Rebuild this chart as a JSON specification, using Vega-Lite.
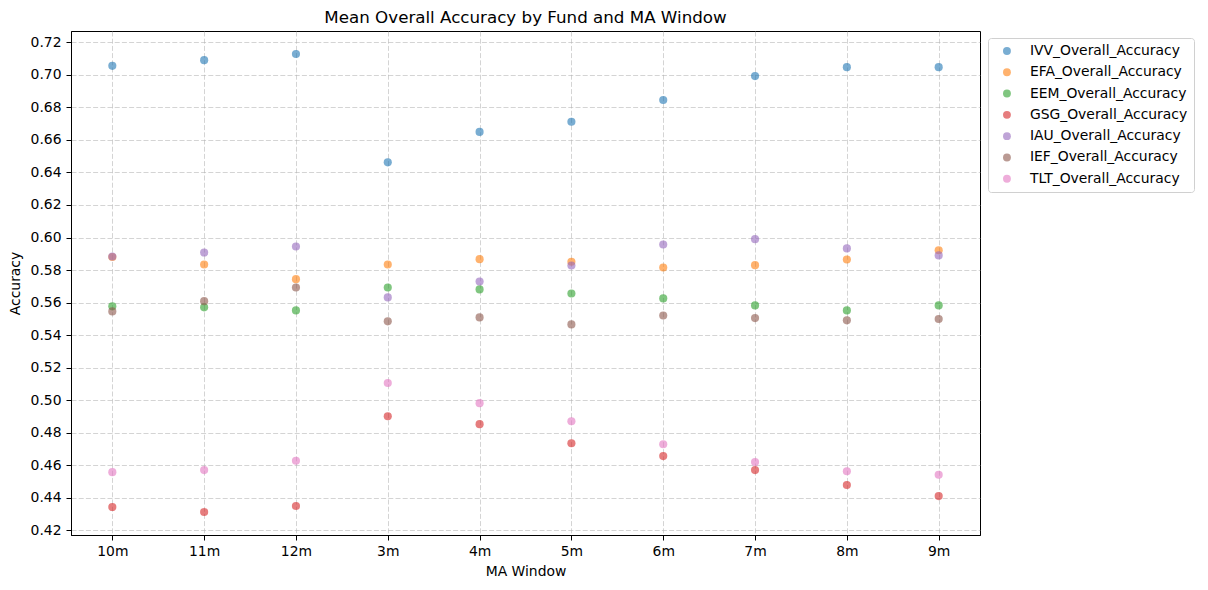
{
  "$schema": "https://vega.github.io/schema/vega-lite/v6.json",
  "autosize": {"type": "none"},
  "padding": {"left": 71, "top": 31, "right": 228, "bottom": 55},
  "width": 909,
  "height": 504,
  "background": "white",
  "title": {
    "text": "Mean Overall Accuracy by Fund and MA Window",
    "font": "DejaVu Sans",
    "fontSize": 16.7,
    "fontWeight": "normal",
    "color": "#000000",
    "offset": 4
  },
  "config": {
    "view": {"stroke": "#000000", "strokeWidth": 1},
    "axis": {
      "labelFont": "DejaVu Sans",
      "labelFontSize": 13.9,
      "labelColor": "#000000",
      "titleFont": "DejaVu Sans",
      "titleFontSize": 13.9,
      "titleFontWeight": "normal",
      "titleColor": "#000000",
      "tickColor": "#000000",
      "tickSize": 5,
      "labelPadding": 4,
      "domainColor": "#000000",
      "grid": true,
      "gridColor": "#b0b0b0",
      "gridOpacity": 0.55,
      "gridWidth": 1,
      "gridDash": [5, 2.2]
    },
    "legend": {
      "labelFont": "DejaVu Sans",
      "labelFontSize": 13.9,
      "labelColor": "#000000"
    }
  },
  "data": {
    "values": [
      {"window": "10m", "series": "IVV_Overall_Accuracy", "accuracy": 0.7055},
      {"window": "11m", "series": "IVV_Overall_Accuracy", "accuracy": 0.709},
      {"window": "12m", "series": "IVV_Overall_Accuracy", "accuracy": 0.7128},
      {"window": "3m", "series": "IVV_Overall_Accuracy", "accuracy": 0.6462},
      {"window": "4m", "series": "IVV_Overall_Accuracy", "accuracy": 0.6649},
      {"window": "5m", "series": "IVV_Overall_Accuracy", "accuracy": 0.6711},
      {"window": "6m", "series": "IVV_Overall_Accuracy", "accuracy": 0.6845},
      {"window": "7m", "series": "IVV_Overall_Accuracy", "accuracy": 0.6992},
      {"window": "8m", "series": "IVV_Overall_Accuracy", "accuracy": 0.7047},
      {"window": "9m", "series": "IVV_Overall_Accuracy", "accuracy": 0.7047},

      {"window": "10m", "series": "EFA_Overall_Accuracy", "accuracy": 0.588},
      {"window": "11m", "series": "EFA_Overall_Accuracy", "accuracy": 0.5834},
      {"window": "12m", "series": "EFA_Overall_Accuracy", "accuracy": 0.5744},
      {"window": "3m", "series": "EFA_Overall_Accuracy", "accuracy": 0.5834},
      {"window": "4m", "series": "EFA_Overall_Accuracy", "accuracy": 0.5867},
      {"window": "5m", "series": "EFA_Overall_Accuracy", "accuracy": 0.5851},
      {"window": "6m", "series": "EFA_Overall_Accuracy", "accuracy": 0.5816},
      {"window": "7m", "series": "EFA_Overall_Accuracy", "accuracy": 0.583},
      {"window": "8m", "series": "EFA_Overall_Accuracy", "accuracy": 0.5865},
      {"window": "9m", "series": "EFA_Overall_Accuracy", "accuracy": 0.5922},

      {"window": "10m", "series": "EEM_Overall_Accuracy", "accuracy": 0.5577},
      {"window": "11m", "series": "EEM_Overall_Accuracy", "accuracy": 0.5571},
      {"window": "12m", "series": "EEM_Overall_Accuracy", "accuracy": 0.5552},
      {"window": "3m", "series": "EEM_Overall_Accuracy", "accuracy": 0.5693},
      {"window": "4m", "series": "EEM_Overall_Accuracy", "accuracy": 0.5681},
      {"window": "5m", "series": "EEM_Overall_Accuracy", "accuracy": 0.5656},
      {"window": "6m", "series": "EEM_Overall_Accuracy", "accuracy": 0.5626},
      {"window": "7m", "series": "EEM_Overall_Accuracy", "accuracy": 0.5583},
      {"window": "8m", "series": "EEM_Overall_Accuracy", "accuracy": 0.5552},
      {"window": "9m", "series": "EEM_Overall_Accuracy", "accuracy": 0.5583},

      {"window": "10m", "series": "GSG_Overall_Accuracy", "accuracy": 0.4344},
      {"window": "11m", "series": "GSG_Overall_Accuracy", "accuracy": 0.4313},
      {"window": "12m", "series": "GSG_Overall_Accuracy", "accuracy": 0.435},
      {"window": "3m", "series": "GSG_Overall_Accuracy", "accuracy": 0.4902},
      {"window": "4m", "series": "GSG_Overall_Accuracy", "accuracy": 0.4853},
      {"window": "5m", "series": "GSG_Overall_Accuracy", "accuracy": 0.4736},
      {"window": "6m", "series": "GSG_Overall_Accuracy", "accuracy": 0.4657},
      {"window": "7m", "series": "GSG_Overall_Accuracy", "accuracy": 0.4571},
      {"window": "8m", "series": "GSG_Overall_Accuracy", "accuracy": 0.4479},
      {"window": "9m", "series": "GSG_Overall_Accuracy", "accuracy": 0.4411},

      {"window": "10m", "series": "IAU_Overall_Accuracy", "accuracy": 0.5883},
      {"window": "11m", "series": "IAU_Overall_Accuracy", "accuracy": 0.5908},
      {"window": "12m", "series": "IAU_Overall_Accuracy", "accuracy": 0.5945},
      {"window": "3m", "series": "IAU_Overall_Accuracy", "accuracy": 0.5632},
      {"window": "4m", "series": "IAU_Overall_Accuracy", "accuracy": 0.573},
      {"window": "5m", "series": "IAU_Overall_Accuracy", "accuracy": 0.5828},
      {"window": "6m", "series": "IAU_Overall_Accuracy", "accuracy": 0.5957},
      {"window": "7m", "series": "IAU_Overall_Accuracy", "accuracy": 0.599},
      {"window": "8m", "series": "IAU_Overall_Accuracy", "accuracy": 0.5933},
      {"window": "9m", "series": "IAU_Overall_Accuracy", "accuracy": 0.589},

      {"window": "10m", "series": "IEF_Overall_Accuracy", "accuracy": 0.5546},
      {"window": "11m", "series": "IEF_Overall_Accuracy", "accuracy": 0.5609},
      {"window": "12m", "series": "IEF_Overall_Accuracy", "accuracy": 0.5693},
      {"window": "3m", "series": "IEF_Overall_Accuracy", "accuracy": 0.5485},
      {"window": "4m", "series": "IEF_Overall_Accuracy", "accuracy": 0.5509},
      {"window": "5m", "series": "IEF_Overall_Accuracy", "accuracy": 0.5466},
      {"window": "6m", "series": "IEF_Overall_Accuracy", "accuracy": 0.5521},
      {"window": "7m", "series": "IEF_Overall_Accuracy", "accuracy": 0.5505},
      {"window": "8m", "series": "IEF_Overall_Accuracy", "accuracy": 0.5491},
      {"window": "9m", "series": "IEF_Overall_Accuracy", "accuracy": 0.5499},

      {"window": "10m", "series": "TLT_Overall_Accuracy", "accuracy": 0.4558},
      {"window": "11m", "series": "TLT_Overall_Accuracy", "accuracy": 0.4571},
      {"window": "12m", "series": "TLT_Overall_Accuracy", "accuracy": 0.4628},
      {"window": "3m", "series": "TLT_Overall_Accuracy", "accuracy": 0.5106},
      {"window": "4m", "series": "TLT_Overall_Accuracy", "accuracy": 0.4982},
      {"window": "5m", "series": "TLT_Overall_Accuracy", "accuracy": 0.4871},
      {"window": "6m", "series": "TLT_Overall_Accuracy", "accuracy": 0.473},
      {"window": "7m", "series": "TLT_Overall_Accuracy", "accuracy": 0.462},
      {"window": "8m", "series": "TLT_Overall_Accuracy", "accuracy": 0.4564},
      {"window": "9m", "series": "TLT_Overall_Accuracy", "accuracy": 0.4542}
    ]
  },
  "mark": {"type": "circle", "size": 66, "opacity": 0.6},
  "encoding": {
    "x": {
      "field": "window",
      "type": "ordinal",
      "sort": ["10m", "11m", "12m", "3m", "4m", "5m", "6m", "7m", "8m", "9m"],
      "scale": {"type": "point", "padding": 0.45},
      "axis": {"title": "MA Window", "labelAngle": 0, "titlePadding": 7}
    },
    "y": {
      "field": "accuracy",
      "type": "quantitative",
      "scale": {"domain": [0.4172, 0.7269], "nice": false, "zero": false},
      "axis": {
        "title": "Accuracy",
        "values": [0.42, 0.44, 0.46, 0.48, 0.5, 0.52, 0.54, 0.56, 0.58, 0.6, 0.62, 0.64, 0.66, 0.68, 0.7, 0.72],
        "format": ".2f",
        "labelPadding": 5,
        "titlePadding": 8
      }
    },
    "color": {
      "field": "series",
      "type": "nominal",
      "scale": {
        "domain": ["IVV_Overall_Accuracy", "EFA_Overall_Accuracy", "EEM_Overall_Accuracy", "GSG_Overall_Accuracy", "IAU_Overall_Accuracy", "IEF_Overall_Accuracy", "TLT_Overall_Accuracy"],
        "range": ["#1f77b4", "#ff7f0e", "#2ca02c", "#d62728", "#9467bd", "#8c564b", "#e377c2"]
      },
      "legend": {
        "title": null,
        "orient": "none",
        "legendX": 917,
        "legendY": 7,
        "padding": 6,
        "symbolOffset": 6,
        "symbolType": "circle",
        "symbolSize": 62,
        "symbolOpacity": 0.6,
        "labelOffset": 16,
        "rowPadding": 6.3,
        "strokeColor": "#d0d0d0",
        "fillColor": "#ffffff",
        "cornerRadius": 3
      }
    }
  }
}
